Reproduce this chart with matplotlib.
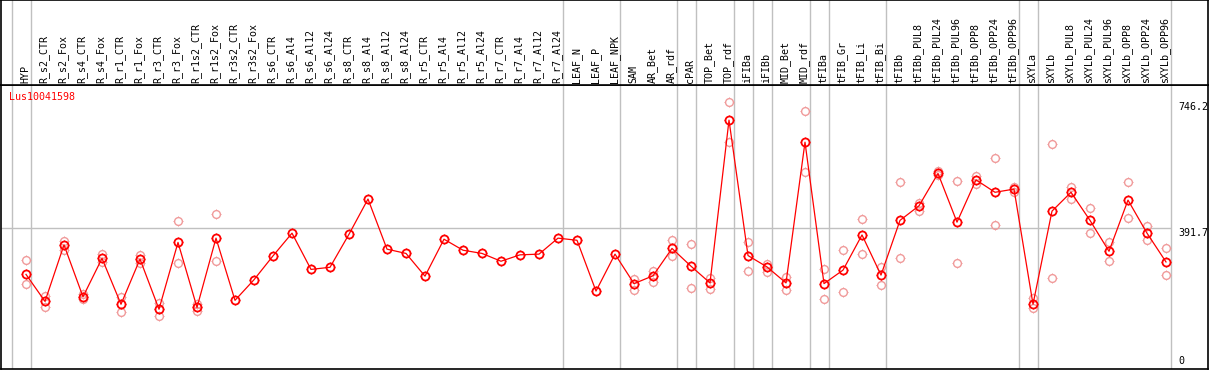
import numpy as np
import matplotlib
matplotlib.use("Agg")
import matplotlib.pyplot as plt
from matplotlib.path import Path

categories = ["HYP", "R_s2_CTR", "R_s2_Fox", "R_s4_CTR", "R_s4_Fox", "R_r1_CTR", "R_r1_Fox",
              "R_r3_CTR", "R_r3_Fox", "R_r1s2_CTR", "R_r1s2_Fox", "R_r3s2_CTR", "R_r3s2_Fox",
              "R_s6_CTR", "R_s6_Al4", "R_s6_Al12", "R_s6_Al24", "R_s8_CTR", "R_s8_Al4",
              "R_s8_Al12", "R_s8_Al24", "R_r5_CTR", "R_r5_Al4", "R_r5_Al12", "R_r5_Al24",
              "R_r7_CTR", "R_r7_Al4", "R_r7_Al12", "R_r7_Al24", "LEAF_N", "LEAF_P", "LEAF_NPK",
              "SAM", "AR_Bet", "AR_rdf", "cPAR", "TOP_Bet", "TOP_rdf", "iFIBa", "iFIBb",
              "MID_Bet", "MID_rdf", "tFIBa", "tFIB_Gr", "tFIB_Li", "tFIB_Bi", "tFIBb",
              "tFIBb_PUL8", "tFIBb_PUL24", "tFIBb_PUL96", "tFIBb_OPP8", "tFIBb_OPP24",
              "tFIBb_OPP96", "sXYLa", "sXYLb", "sXYLb_PUL8", "sXYLb_PUL24", "sXYLb_PUL96",
              "sXYLb_OPP8", "sXYLb_OPP24", "sXYLb_OPP96"]

mean_values = [262, 186, 345, 199, 307, 178, 305, 164, 352, 169, 364, 189, 247,
               314, 378, 276, 282, 375, 474, 333, 321, 257, 361, 330, 321,
               299, 317, 319, 364, 358, 215, 319,
               236, 258, 335, 285, 238, 696, 315, 283, 238, 634, 236, 274, 373, 260, 414,
               455, 546, 409, 528, 493, 502, 178, 440, 493, 414, 327, 471, 378, 297]

nan = np.nan
rep_high = [302, 202, 357, 207, 319, 198, 317, 181, 412, 178, 431] + [nan] * 21 + \
           [250, 272, 359, 348, 251, 746.2, 352, 292, 256, 721, 277, 330, 417, 283, 521,
            464, 552, 524, 539, 589, 509, 195, 628, 508, 448, 352, 521, 398, 335]
rep_low = [234, 170, 331, 192, 298, 155, 293, 144, 294, 158, 299] + [nan] * 21 + \
          [218, 240, 315, 223, 222, 634, 271, 270, 219, 549, 192, 212, 319, 231, 307,
           441, 542, 294, 516, 400, 495, 167, 251, 475, 378, 299, 420, 360, 259]

group_lines = [-1, 0, 28, 31, 34, 35, 37, 38, 39, 41, 42, 45, 52, 53, 60]
ref_values = [746.2, 391.7, 0]
gene_id = "Lus10041598"

W, H = 1209, 370
fig = plt.figure(figsize=(W / 100, H / 100), dpi=100)

x_left_px, x_right_px = 1, 1208
top_plot_px, bottom_px = 85, 368.5
px0, px_step = 26, 19
y0_px, k = 367.5, 0.3554

def idx_of(px):
    return (px - px0) / px_step

def val_of(py):
    return (y0_px - py) / k

ax = fig.add_axes([x_left_px / W, (H - bottom_px) / H, (x_right_px - x_left_px) / W,
                   (bottom_px - top_plot_px) / H])
axl = fig.add_axes([x_left_px / W, (H - top_plot_px) / H, (x_right_px - x_left_px) / W,
                    top_plot_px / H - 0.0005])

xlim = (idx_of(x_left_px), idx_of(x_right_px))
for a in (ax, axl):
    a.set_xlim(*xlim)
    a.set_xticks([])
    a.set_yticks([])
    for s in a.spines.values():
        s.set_color("black")
        s.set_linewidth(1.2)
ax.set_ylim(val_of(bottom_px), val_of(top_plot_px))
axl.set_ylim(0, top_plot_px)

gray = "#c0c0c0"
for g in group_lines:
    for a in (ax, axl):
        a.axvline(g + 0.25, color=gray, lw=1.0, zorder=0)
ax.hlines(391.7, xlim[0], 60.25, color=gray, lw=1.0, zorder=0)

# small outward ticks around the circles
TL = 1.35
ticks = Path([(0, 1), (0, TL), (0, -1), (0, -TL), (1, 0), (TL, 0), (-1, 0), (-TL, 0)],
             [Path.MOVETO, Path.LINETO] * 4)

x = np.arange(len(categories))
rep_color = "#f09a9a"
ms_rep, ms_mean = 5.6, 5.8
for reps in (rep_high, rep_low):
    ax.plot(x, reps, linestyle="none", marker="o", markersize=ms_rep, mfc="none",
            mec=rep_color, mew=1.0, zorder=2)
    ax.plot(x, reps, linestyle="none", marker=ticks, markersize=ms_rep * TL, mfc="none",
            mec=rep_color, mew=0.7, zorder=2)
ax.plot(x, mean_values, color="#ff0000", lw=0.9, zorder=3)
ax.plot(x, mean_values, linestyle="none", marker="o", markersize=ms_mean, mfc="none",
        mec="#ff0000", mew=1.3, zorder=4)
ax.plot(x, mean_values, linestyle="none", marker=ticks, markersize=ms_mean * TL, mfc="none",
        mec="#ff0000", mew=0.8, zorder=4)

mono = "DejaVu Sans Mono"
for i, c in enumerate(categories):
    axl.text(i - 0.05, 2.0, c, rotation=90, ha="center", va="bottom",
             fontsize=7.2, family=mono, color="black")

fig.text(9 / W, 1 - 97 / H, gene_id, color="#ff0000", fontsize=7.2, family=mono,
         ha="left", va="center")

for v in ref_values:
    py = y0_px - v * k
    if v == 0:
        fig.text(1178 / W, 1 - (py - 1.5) / H, "0", fontsize=7.2, family=mono,
                 ha="left", va="bottom")
    else:
        fig.text(1178 / W, 1 - py / H, f"{v:.1f}", fontsize=7.2, family=mono,
                 ha="left", va="top")

fig.savefig("out.png", dpi=100)
